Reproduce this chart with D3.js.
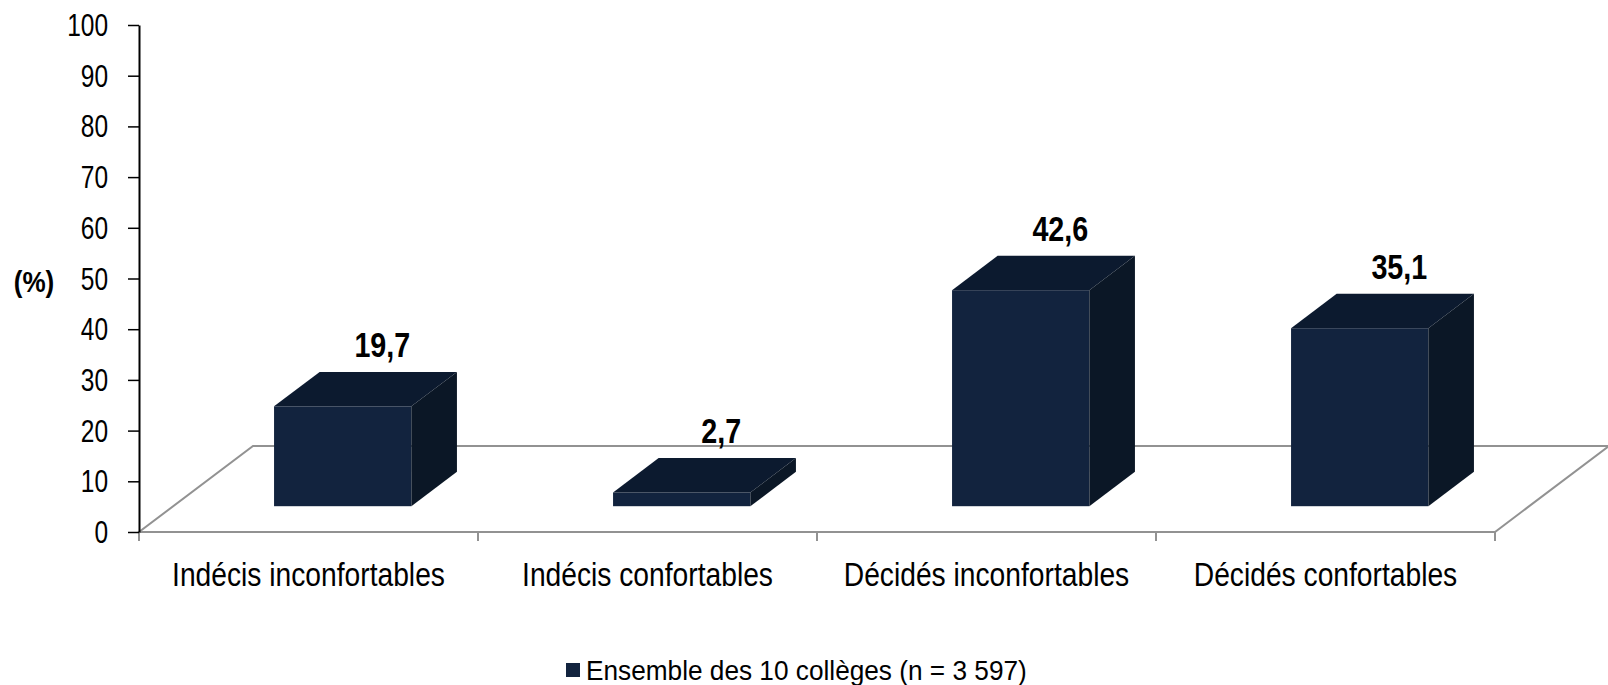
<!DOCTYPE html>
<html>
<head>
<meta charset="utf-8">
<script src="https://cdn.jsdelivr.net/npm/d3@7"></script>
<style>
  body { margin: 0; background: #fff; }
  svg { display: block; font-family: "Liberation Sans", Arial, sans-serif; }
</style>
</head>
<body>
<svg id="chart" width="1608" height="685"></svg>
<script>
// data
const categories = [
  "Indécis inconfortables",
  "Indécis confortables",
  "Décidés inconfortables",
  "Décidés confortables",
];
const values = [19.7, 2.7, 42.6, 35.1];
const valueLabels = ["19,7", "2,7", "42,6", "35,1"];
const yTicks = [0, 10, 20, 30, 40, 50, 60, 70, 80, 90, 100];
const axisTitle = "(%)";
const legendLabel = "Ensemble des 10 collèges (n = 3 597)";

// settings
const width = 1608;
const height = 685;
const margin = { left: 139, right: 113, top: 25, bottom: 153 };
const depth = { dx: 114, dy: -86 }; // floor depth in projection
const barFront = 0.3; // bars sit between 30% and 70% of floor depth
const barBack = 0.7;
const barFrac = 0.405; // bar width / category width
const narrow = 0.83; // condensed font look
const colors = {
  front: "#12233e",
  top: "#0c1a2f",
  side: "#0b1726",
  floor: "#929292",
};

const svg = d3.select("#chart");

// scales
const xScale = d3
  .scaleBand()
  .domain(categories)
  .range([margin.left, width - margin.right])
  .padding(0);
const yScale = d3
  .scaleLinear()
  .domain([0, 100])
  .range([height - margin.bottom, margin.top]);

const x0 = xScale.range()[0];
const x1 = xScale.range()[1];
const yBase = yScale(0);

// floor
const floor = d3.path();
floor.moveTo(x0, yBase);
floor.lineTo(x1, yBase);
floor.lineTo(x1 + depth.dx, yBase + depth.dy);
floor.lineTo(x0 + depth.dx, yBase + depth.dy);
floor.closePath();
svg
  .append("path")
  .attr("d", floor.toString())
  .attr("fill", "none")
  .attr("stroke", colors.floor)
  .attr("stroke-width", 2);

// category ticks on the front edge
const bounds = categories.map((c) => xScale(c)).concat([x1]);
svg
  .selectAll(".cat-tick")
  .data(bounds)
  .join("line")
  .attr("class", "cat-tick")
  .attr("x1", (d) => d)
  .attr("x2", (d) => d)
  .attr("y1", yBase)
  .attr("y2", yBase + 9)
  .attr("stroke", colors.floor)
  .attr("stroke-width", 2);

// y axis
const yAxis = d3.axisLeft(yScale).tickValues(yTicks).tickSize(11).tickSizeOuter(0);
const yAxisG = svg
  .append("g")
  .attr("class", "axis yAxis")
  .attr("transform", `translate(${x0}, 0)`)
  .call(yAxis);
yAxisG.select(".domain").attr("stroke", "#000").attr("stroke-width", 2);
yAxisG.selectAll(".tick line").attr("stroke", "#000").attr("stroke-width", 1.5);
yAxisG
  .selectAll(".tick text")
  .attr("font-size", 31)
  .attr("fill", "#000")
  .attr("font-family", "Liberation Sans, Arial, sans-serif")
  .attr("x", -31 / 0.79)
  .attr("dy", "0.34em")
  .attr("transform", "scale(0.79,1)");

// axis title
svg
  .append("g")
  .attr("transform", "translate(34, 292)")
  .append("text")
  .attr("text-anchor", "middle")
  .attr("font-size", 29)
  .attr("font-weight", "bold")
  .attr("transform", "scale(0.9,1)")
  .text(axisTitle);

// bars
const bw = xScale.bandwidth() * barFrac;
const bdx = depth.dx * (barBack - barFront);
const bdy = depth.dy * (barBack - barFront);

const bars = categories.map((c, i) => {
  const xl = xScale(c) + (xScale.bandwidth() - bw) / 2 + depth.dx * barFront;
  const yb = yScale(0) + depth.dy * barFront;
  const yt = yScale(values[i]) + depth.dy * barFront;
  return { c, v: values[i], label: valueLabels[i], xl, yb, yt };
});

const barG = svg
  .selectAll(".bar")
  .data(bars)
  .join("g")
  .attr("class", "bar");

barG
  .append("rect")
  .attr("x", (d) => d.xl)
  .attr("y", (d) => d.yt)
  .attr("width", bw)
  .attr("height", (d) => d.yb - d.yt)
  .attr("fill", colors.front);

barG
  .append("polygon")
  .attr("points", (d) =>
    [
      [d.xl, d.yt],
      [d.xl + bdx, d.yt + bdy],
      [d.xl + bw + bdx, d.yt + bdy],
      [d.xl + bw, d.yt],
    ].join(" ")
  )
  .attr("fill", colors.top);

barG
  .append("polygon")
  .attr("points", (d) =>
    [
      [d.xl + bw, d.yt],
      [d.xl + bw + bdx, d.yt + bdy],
      [d.xl + bw + bdx, d.yb + bdy],
      [d.xl + bw, d.yb],
    ].join(" ")
  )
  .attr("fill", colors.side);

// value labels
barG
  .append("g")
  .attr(
    "transform",
    (d) => `translate(${d.xl + bdx + bw / 2 - 6}, ${d.yt + bdy - 15})`
  )
  .append("text")
  .attr("text-anchor", "middle")
  .attr("font-size", 35)
  .attr("font-weight", "bold")
  .attr("transform", "scale(0.82,1)")
  .text((d) => d.label);

// category labels
svg
  .selectAll(".cat-label")
  .data(categories)
  .join("g")
  .attr("class", "cat-label")
  .attr("transform", (d) => `translate(${xScale(d) + xScale.bandwidth() / 2}, 586)`)
  .append("text")
  .attr("text-anchor", "middle")
  .attr("font-size", 34)
  .attr("transform", `scale(${narrow},1)`)
  .text((d) => d);

// legend
const legend = svg.append("g").attr("transform", "translate(566, 680)");
legend
  .append("rect")
  .attr("x", 0)
  .attr("y", -17)
  .attr("width", 14)
  .attr("height", 14)
  .attr("fill", colors.front);
legend
  .append("text")
  .attr("x", 20 / 0.92)
  .attr("font-size", 28.5)
  .attr("transform", "scale(0.92,1)")
  .text(legendLabel);
</script>
</body>
</html>
